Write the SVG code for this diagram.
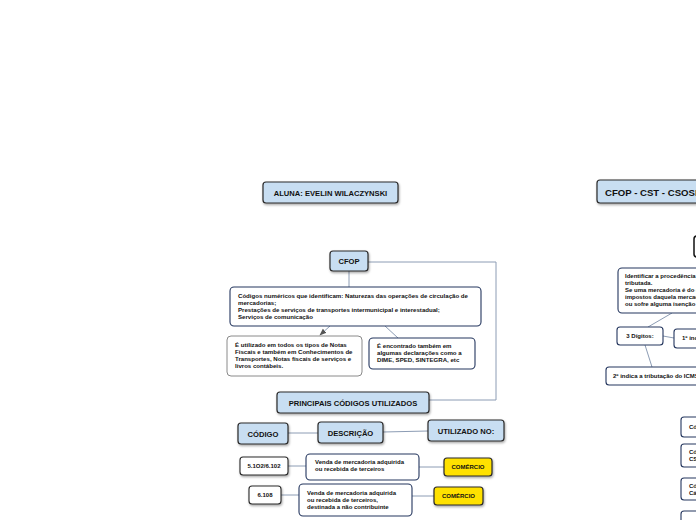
<svg xmlns="http://www.w3.org/2000/svg" width="696" height="520" viewBox="0 0 696 520">
<defs>
<filter id="sh" x="-20%" y="-20%" width="140%" height="160%">
<feDropShadow dx="0.8" dy="1.5" stdDeviation="0.8" flood-color="#000" flood-opacity="0.35"/>
</filter>
<marker id="ah" viewBox="0 0 10 10" refX="9" refY="5" markerWidth="7" markerHeight="7" orient="auto-start-reverse">
<path d="M0,1 L10,5 L0,9 Z" fill="#555"/>
</marker>
</defs>
<style>
text{font-family:"Liberation Sans",Arial,sans-serif;font-weight:bold;fill:#111}
.blue{fill:#c8def2;stroke:#2a2a2a;stroke-width:1.2;filter:url(#sh)}
.yel{fill:#ffe100;stroke:#2a2a2a;stroke-width:1.2;filter:url(#sh)}
.wht{fill:#fff;stroke:#2a2a2a;stroke-width:1.1}
.nav{fill:#fff;stroke:#24365e;stroke-width:1.1}
.gry{fill:#fff;stroke:#8a8a8a;stroke-width:1}
.t75{font-size:7.6px}
.t6{font-size:6.1px}
.t55{font-size:6px}
.con path{fill:none;stroke:#8c9cb4;stroke-width:1}
</style>
<rect width="696" height="520" fill="#fff"/>

<g class="con">
<path d="M368,262 H496 V400 H429"/>
<path d="M349,271 V287"/>
<path d="M330,326 L320,335" stroke="#666" marker-end="url(#ah)"/>
<path d="M385,326 L398,338"/>
<path d="M288,433 H318"/>
<path d="M383,432 L428,431"/>
<path d="M288,466 H306"/>
<path d="M419,467 H444"/>
<path d="M281,495 H299"/>
<path d="M412,496 H434"/>
<path d="M672,313 L648,327"/>
<path d="M663,336 L674,338"/>
<path d="M645,345 L652,367"/>
</g>

<g id="aluna"><rect class="blue" x="263" y="182" width="135" height="21" rx="3"/><text class="t75" x="330.5" y="195.5" text-anchor="middle">ALUNA: EVELIN WILACZYNSKI</text></g>

<g id="cfop"><rect class="blue" x="330" y="251" width="38" height="20" rx="3"/><text class="t75" x="349" y="263.5" text-anchor="middle">CFOP</text></g>

<g id="cfop-desc"><rect class="nav" x="230" y="287" width="251" height="39" rx="4"/>
<text class="t6" x="238" y="298">Códigos numéricos que identificam: Naturezas das operações de circulação de</text>
<text class="t6" x="238" y="305">mercadorias;</text>
<text class="t6" x="238" y="312">Prestações de serviços de transportes intermunicipal e interestadual;</text>
<text class="t6" x="238" y="319">Serviços de comunicação</text></g>

<g id="utilizado-notas"><rect class="gry" x="227" y="336" width="135" height="40" rx="4"/>
<text class="t6" x="235" y="347">É utilizado em todos os tipos de Notas</text>
<text class="t6" x="235" y="354">Fiscais e também em Conhecimentos de</text>
<text class="t6" x="235" y="361">Transportes, Notas fiscais de serviços e</text>
<text class="t6" x="235" y="368">livros contábeis.</text></g>

<g id="encontrado"><rect class="nav" x="369" y="338" width="106" height="31" rx="4"/>
<text class="t6" x="377" y="348">É encontrado também em</text>
<text class="t6" x="377" y="355">algumas declarações como a</text>
<text class="t6" x="377" y="362">DIME, SPED, SINTEGRA, etc</text></g>

<g id="principais"><rect class="blue" x="277" y="392" width="152" height="21" rx="3"/><text class="t75" x="353" y="405.5" text-anchor="middle">PRINCIPAIS CÓDIGOS UTILIZADOS</text></g>

<g id="codigo"><rect class="blue" x="238" y="423" width="50" height="21" rx="3"/><text class="t75" x="263" y="436.5" text-anchor="middle">CÓDIGO</text></g>
<g id="descricao"><rect class="blue" x="318" y="422" width="65" height="21" rx="3"/><text class="t75" x="350.5" y="435.5" text-anchor="middle">DESCRIÇÃO</text></g>
<g id="utilizado-no"><rect class="blue" x="428" y="420" width="76" height="21" rx="3"/><text class="t75" x="466" y="433.5" text-anchor="middle">UTILIZADO NO:</text></g>

<g id="cod1"><rect class="wht" x="240" y="457" width="48" height="18" rx="3" filter="url(#sh)"/><text class="t55" x="264" y="468" text-anchor="middle">5.1O2/6.102</text></g>
<g id="desc1"><rect class="nav" x="306" y="454" width="113" height="26" rx="4"/>
<text class="t55" x="315" y="464">Venda de mercadoria adquirida</text>
<text class="t55" x="315" y="471">ou recebida de terceiros</text></g>
<g id="com1"><rect class="yel" x="444" y="458" width="48" height="18" rx="3"/><text class="t55" x="468" y="469" text-anchor="middle">COMÉRCIO</text></g>

<g id="cod2"><rect class="wht" x="249" y="486" width="32" height="18" rx="3" filter="url(#sh)"/><text class="t55" x="265" y="497" text-anchor="middle">6.108</text></g>
<g id="desc2"><rect class="nav" x="299" y="484" width="113" height="32" rx="4"/>
<text class="t55" x="307" y="495">Venda de mercadoria adquirida</text>
<text class="t55" x="307" y="502">ou recebida de terceiros,</text>
<text class="t55" x="307" y="509">destinada a não contribuinte</text></g>
<g id="com2"><rect class="yel" x="434" y="487" width="49" height="18" rx="3"/><text class="t55" x="458.5" y="498" text-anchor="middle">COMÉRCIO</text></g>

<g id="titulo"><rect class="blue" x="597" y="180" width="120" height="23" rx="3"/><text x="605" y="195.5" font-size="9.6px">CFOP - CST - CSOSN</text></g>

<g id="black-box"><rect x="694" y="236" width="20" height="21" rx="3" fill="#fff" stroke="#111" stroke-width="1.5"/></g>

<g id="identificar"><rect class="nav" x="618" y="268" width="100" height="45" rx="4"/>
<text class="t55" x="625" y="278">Identificar a procedência da mercadoria</text>
<text class="t55" x="625" y="285">tributada.</text>
<text class="t55" x="625" y="292">Se uma mercadoria é do exterior</text>
<text class="t55" x="625" y="299">impostos daquela mercadoria</text>
<text class="t55" x="625" y="306">ou sofre alguma isenção</text></g>

<g id="digitos"><rect class="nav" x="617" y="327" width="46" height="18" rx="3"/><text class="t55" x="640" y="338" text-anchor="middle">3 Dígitos:</text></g>

<g id="primeiro"><rect class="nav" x="674" y="329" width="40" height="19" rx="3"/><text class="t55" x="682" y="340">1º indica</text></g>

<g id="segundo"><rect class="nav" x="606" y="367" width="110" height="18" rx="3"/><text class="t55" x="613" y="378">2º indica a tributação do ICMS</text></g>

<g id="r1"><rect class="nav" x="681" y="417" width="30" height="20" rx="3"/><text class="t55" x="689" y="429">Código</text></g>
<g id="r2"><rect class="nav" x="681" y="444" width="30" height="23" rx="3"/><text class="t55" x="689" y="454">Código</text><text class="t55" x="689" y="461">CST</text></g>
<g id="r3"><rect class="nav" x="681" y="478" width="30" height="22" rx="3"/><text class="t55" x="689" y="488">Código</text><text class="t55" x="689" y="495">Cálculo</text></g>
<g id="r4"><rect class="nav" x="681" y="511" width="30" height="20" rx="3"/></g>
</svg>
